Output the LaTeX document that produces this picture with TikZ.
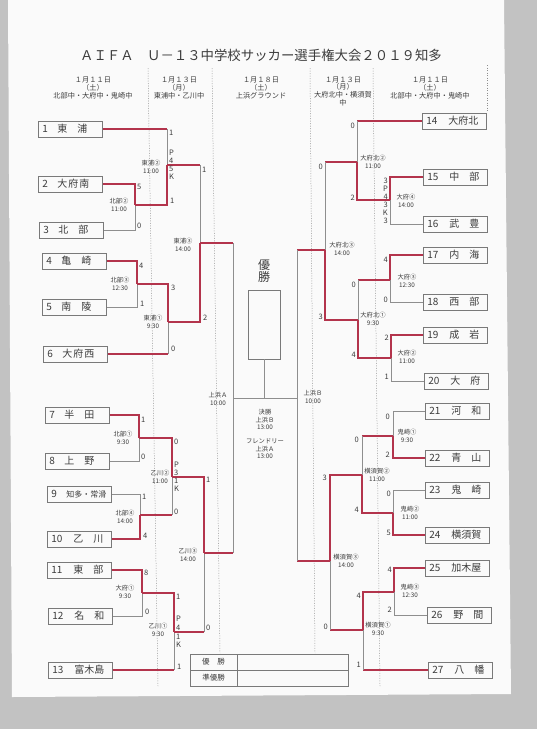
\documentclass[tikz,border=0pt]{standalone}
\usepackage{fontspec}
\setmainfont{Noto Sans CJK JP}
\definecolor{paper}{HTML}{FAFAFA}
\definecolor{backg}{HTML}{C2C2C2}
\definecolor{ink}{HTML}{3C3C3C}
\definecolor{gline}{HTML}{8E8E8E}
\definecolor{rline}{HTML}{B3344C}
\tikzset{
  team/.style={draw=gline!85!black, line width=0.8pt, minimum height=16pt, text width=56pt,
    inner xsep=4pt, inner ysep=0pt, align=left, anchor=west, text=ink,
    font=\fontsize{10}{10}\selectfont},
  lose/.style={draw=gline, line width=0.8pt},
  win/.style={draw=rline, line width=1.1pt},
  score/.style={font=\fontsize{7.5}{7.5}\selectfont, text=ink, inner sep=0pt},
  match/.style={font=\fontsize{6.3}{7.6}\selectfont, text=ink, align=center, inner sep=0pt},
  head/.style={font=\fontsize{7.2}{7.6}\selectfont, text=ink, align=center, inner sep=0pt},
  sep/.style={draw=gline, line width=0.5pt, dash pattern=on 1pt off 1.5pt},
  cell/.style={draw=gline!85!black, line width=0.7pt, minimum height=16pt, inner sep=0pt, text=ink,
    font=\fontsize{7.5}{7.5}\selectfont}
}
\begin{document}
\begin{tikzpicture}[x=1pt,y=-1pt]
\useasboundingbox (0,0) rectangle (537,729);
\fill[backg] (0,0) rectangle (537,729);
\fill[paper] (8,0) -- (504,0) -- (511,694) -- (12,697) -- cycle;

% title and day headers
\node[font=\fontsize{13.4}{14}\selectfont, text=ink] (title) at (261,55)
  {ＡＩＦＡ　Ｕ－１３中学校サッカー選手権大会２０１９知多};
\node[head] (h1) at (93,88) {１月１１日\\（土）\\北部中・大府中・鬼崎中};
\node[head] (h2) at (179,88) {１月１３日\\（月）\\東浦中・乙川中};
\node[head] (h3) at (261,88) {１月１８日\\（土）\\上浜グラウンド};
\node[head, anchor=north] (h4) at (343,76.5) {１月１３日\\（月）\\大府北中・横須賀\\中};
\node[head] (h5) at (430,88) {１月１１日\\（土）\\北部中・大府中・鬼崎中};
\draw[sep] (148,68) -- (158,686);
\draw[sep] (212,68) -- (220,653);
\draw[sep] (310,68) -- (315,653);
\draw[sep] (373,68) -- (380,686);
\draw[sep] (487,65) -- (487,111);

% teams
\foreach \n/\x/\y/\name in {1/38/129/{東\hspace{10pt}浦}, 2/38/184/{大\hspace{1pt}府\hspace{1pt}南},
  3/39/230/{北\hspace{10pt}部}, 4/42/261/{亀\hspace{10pt}崎}, 5/42/307/{南\hspace{10pt}陵},
  6/43/354/{大\hspace{1pt}府\hspace{1pt}西}, 7/45/415/{半\hspace{10pt}田}, 8/45/461/{上\hspace{10pt}野},
  9/47/494/{\fontsize{8}{8}\selectfont 知多・常滑}, 10/47/539/{乙\hspace{10pt}川},
  11/47/570/{東\hspace{10pt}部}, 12/48/616/{名\hspace{10pt}和}, 13/48/670/{富木島},
  14/422/121/{大府北}, 15/423/177/{中\hspace{10pt}部}, 16/423/224/{武\hspace{10pt}豊},
  17/423/255/{内\hspace{10pt}海}, 18/423/302/{西\hspace{10pt}部}, 19/423/335/{成\hspace{10pt}岩},
  20/424/381/{大\hspace{10pt}府}, 21/425/411/{河\hspace{10pt}和}, 22/425/458/{青\hspace{10pt}山},
  23/425/490/{鬼\hspace{10pt}崎}, 24/425/535/{横須賀}, 25/425/568/{加木屋},
  26/427/615/{野\hspace{10pt}間}, 27/428/670/{八\hspace{10pt}幡}}
  \node[team] (t\n) at (\x,\y) {\makebox[\ifnum\n<10 15pt\else 22pt\fi][l]{\n}\name};

% match points, left
\coordinate (m1) at (135,205);  % 北部②
\coordinate (m2) at (167,165);  % 東浦②
\coordinate (m3) at (200,243);  % 東浦③
\coordinate (m4) at (137,284);  % 北部③
\coordinate (m5) at (168,322);  % 東浦①
\coordinate (m6) at (139,438);  % 北部①
\coordinate (m7) at (140,515);  % 北部④
\coordinate (m8) at (172,477);  % 乙川②
\coordinate (m9) at (142,593);  % 大府①
\coordinate (m10) at (174,632); % 乙川①
\coordinate (m11) at (204,553); % 乙川③
\coordinate (sl) at (233,398);  % 上浜A
% match points, right
\coordinate (n1) at (390,200);  % 大府④
\coordinate (n2) at (357,162);  % 大府北②
\coordinate (n3) at (390,280);  % 大府③
\coordinate (n4) at (391,358);  % 大府②
\coordinate (n5) at (358,320);  % 大府北①
\coordinate (n6) at (325,250);  % 大府北③
\coordinate (n7) at (393,436);  % 鬼崎①
\coordinate (n8) at (393,513);  % 鬼崎②
\coordinate (n9) at (362,475);  % 横須賀②
\coordinate (n10) at (394,592); % 鬼崎③
\coordinate (n11) at (363,630); % 横須賀①
\coordinate (n12) at (330,561); % 横須賀③
\coordinate (sr) at (297,398);  % 上浜B

% left bracket
\draw[win] (t2.east) -| (m1);
\draw[lose] (t3.east) -| (m1);
\draw[win] (t1.east) -- (t1.east -| m2);
\draw[lose] (t1.east -| m2) -- (m2);
\draw[win] (m1) -| (m2);
\draw[win] (m2) -- (m2 -| m3);
\draw[lose] (m2 -| m3) -- (m3);
\draw[win] (t4.east) -| (m4);
\draw[lose] (t5.east) -| (m4);
\draw[win] (m4) -| (m5);
\draw[win] (t6.east) -- (t6.east -| m5);
\draw[lose] (t6.east -| m5) -- (m5);
\draw[win] (m5) -| (m3);
\draw[win] (m3) -- (m3 -| sl);
\draw[lose] (m3 -| sl) -- (sl);
\draw[win] (t7.east) -| (m6);
\draw[lose] (t8.east) -| (m6);
\draw[lose] (t9.east) -| (m7);
\draw[win] (t10.east) -| (m7);
\draw[win] (m6) -| (m8);
\draw[win] (m7) -- (m7 -| m8);
\draw[lose] (m7 -| m8) -- (m8);
\draw[win] (t11.east) -| (m9);
\draw[lose] (t12.east) -| (m9);
\draw[win] (m9) -| (m10);
\draw[win] (t13.east) -- (t13.east -| m10);
\draw[lose] (t13.east -| m10) -- (m10);
\draw[win] (m8) -| (m11);
\draw[win] (m10) -- (m10 -| m11);
\draw[lose] (m10 -| m11) -- (m11);
\draw[win] (m11) -- (m11 -| sl);
\draw[lose] (m11 -| sl) -- (sl);

% right bracket
\draw[win] (t15.west) -| (n1);
\draw[lose] (t16.west) -| (n1);
\draw[win] (t14.west) -- (t14.west -| n2);
\draw[lose] (t14.west -| n2) -- (n2);
\draw[win] (n1) -| (n2);
\draw[win] (t17.west) -| (n3);
\draw[lose] (t18.west) -| (n3);
\draw[win] (t19.west) -| (n4);
\draw[lose] (t20.west) -| (n4);
\draw[win] (n3) -- (n3 -| n5);
\draw[lose] (n3 -| n5) -- (n5);
\draw[win] (n4) -| (n5);
\draw[win] (n2) -- (n2 -| n6);
\draw[lose] (n2 -| n6) -- (n6);
\draw[win] (n5) -| (n6);
\draw[win] (n6) -- (n6 -| sr);
\draw[lose] (n6 -| sr) -- (sr);
\draw[lose] (t21.west) -| (n7);
\draw[win] (t22.west) -| (n7);
\draw[lose] (t23.west) -| (n8);
\draw[win] (t24.west) -| (n8);
\draw[win] (n7) -- (n7 -| n9);
\draw[lose] (n7 -| n9) -- (n9);
\draw[win] (n8) -| (n9);
\draw[win] (t25.west) -| (n10);
\draw[lose] (t26.west) -| (n10);
\draw[win] (n10) -| (n11);
\draw[win] (t27.west) -- (t27.west -| n11);
\draw[lose] (t27.west -| n11) -- (n11);
\draw[win] (n9) -| (n12);
\draw[win] (n11) -- (n11 -| n12);
\draw[lose] (n11 -| n12) -- (n12);
\draw[win] (n12) -- (n12 -| sr);
\draw[lose] (n12 -| sr) -- (sr);

% final
\draw[lose] (sl) -- (sr);
\node[draw=gline!85!black, line width=0.8pt, minimum width=32pt, minimum height=69pt] (cup) at (264,324.5) {};
\draw[lose] (cup.south) -- (cup.south |- sl);
\node[font=\fontsize{12}{12.5}\selectfont, text=ink, align=center, inner sep=0pt] (yusho) at (264,271) {優\\勝};
\node[match] (kessho) at (265,434) {決勝\\上浜Ｂ\\13:00\\[6pt]フレンドリー\\上浜Ａ\\13:00};

% scores
\foreach \i/\x/\y/\v in {1/137/187/5, 2/137/226/0, 3/169/133/1, 4/169/153/P, 5/169/161/4, 6/169/169/5,
  7/169/177/K, 8/170/201/1, 9/202/170/1, 10/203/318/2, 11/139/266/4, 12/140/304/1, 13/171/288/3,
  14/171/349/0, 15/141/420/1, 16/141/457/0, 17/142/497/1, 18/143/536/4, 19/174/442/0, 20/174/465/P,
  21/174/473/3, 22/174/481/1, 23/174/489/K, 24/174/512/0, 25/144/573/8, 26/145/612/0, 27/176/597/1,
  28/176/619/P, 29/176/628/4, 30/176/637/1, 31/176/645/K, 32/177/667/1, 33/206/480/1, 34/206/628/0}
  \node[score, anchor=west] (sa\i) at (\x,\y) {\v};
\foreach \i/\x/\y/\v in {1/388/181/3, 2/388/189/P, 3/388/197/4, 4/388/205/3, 5/388/213/K, 6/388/221/3,
  7/355/126/0, 8/355/198/2, 9/323/167/0, 10/323/317/3, 11/388/260/4, 12/388/300/0, 13/356/285/0,
  14/356/355/4, 15/389/338/2, 16/389/377/1, 17/390/417/0, 18/390/455/2, 19/359/440/0, 20/359/510/4,
  21/391/494/0, 22/391/533/5, 23/327/478/3, 24/328/627/0, 25/392/570/4, 26/392/610/2, 27/361/596/4,
  28/361/665/1}
  \node[score, anchor=east] (sb\i) at (\x,\y) {\v};

% match labels
\foreach \i/\x/\y/\txt in {1/119/205/{北部②\\11:00}, 2/151/167/{東浦②\\11:00}, 3/183/245/{東浦③\\14:00},
  4/120/284/{北部③\\12:30}, 5/153/322/{東浦①\\9:30}, 6/123/438/{北部①\\9:30},
  7/160/477/{乙川②\\11:00}, 8/125/517/{北部④\\14:00}, 9/188/555/{乙川③\\14:00},
  10/125/592/{大府①\\9:30}, 11/158/630/{乙川①\\9:30}, 12/218/399/{上浜Ａ\\10:00},
  13/373/162/{大府北②\\11:00}, 14/406/201/{大府④\\14:00}, 15/342/249/{大府北③\\14:00},
  16/407/281/{大府③\\12:30}, 17/373/319/{大府北①\\9:30}, 18/407/357/{大府②\\11:00},
  19/313/397/{上浜Ｂ\\10:00}, 20/407/436/{鬼崎①\\9:30}, 21/377/475/{横須賀②\\11:00},
  22/410/513/{鬼崎②\\11:00}, 23/346/561/{横須賀③\\14:00}, 24/410/591/{鬼崎③\\12:30},
  25/378/629/{横須賀①\\9:30}}
  \node[match] (ml\i) at (\x,\y) {\txt};

% result table
\node[cell, minimum width=47pt] (wina) at (213.5,662) {優\hspace{8pt}勝};
\node[cell, minimum width=111pt] (winb) at (292.5,662) {};
\node[cell, minimum width=47pt] (runa) at (213.5,678) {準優勝};
\node[cell, minimum width=111pt] (runb) at (292.5,678) {};
\end{tikzpicture}
\end{document}
